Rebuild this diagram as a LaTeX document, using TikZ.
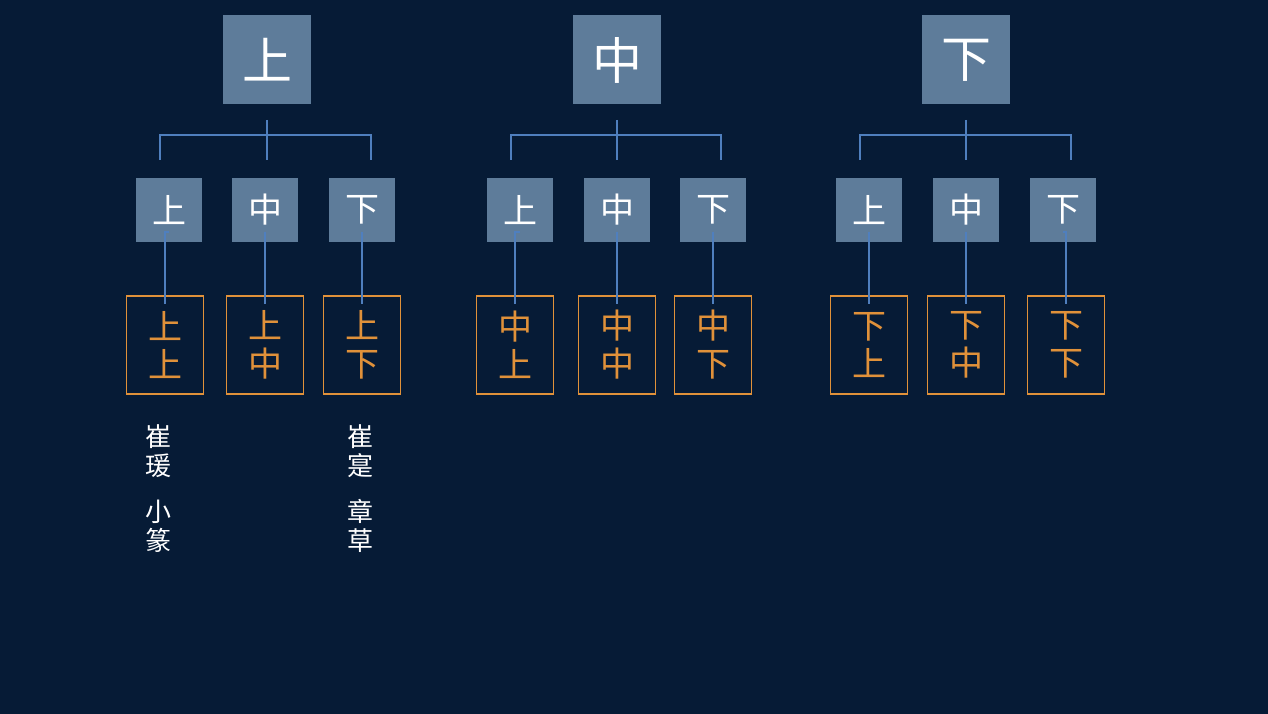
\documentclass[tikz,border=0pt]{standalone}
\usepackage{fontspec}
\newfontfamily\cjk{Noto Sans CJK SC}[Scale=1]
\definecolor{bg}{HTML}{061B36}
\definecolor{tile}{HTML}{5E7C9A}
\definecolor{ln}{HTML}{4F7FBE}
\definecolor{org}{HTML}{E0913A}
\tikzset{
 big/.style={fill=tile,minimum width=88pt,minimum height=89pt,inner sep=0,text=white,font=\cjk\fontsize{50}{50}\selectfont},
 mid/.style={fill=tile,minimum width=66pt,minimum height=63pt,inner sep=0,text=white,font=\cjk\fontsize{34}{34}\selectfont},
 obox/.style={draw=org,line width=1.2pt,minimum width=77pt,minimum height=98pt,inner sep=0,text=org,align=center,font=\cjk\fontsize{34}{38}\selectfont},
 conn/.style={draw=ln,line width=1.6pt},
 note/.style={text=white,align=center,font=\cjk\fontsize{26}{29}\selectfont}
}
\begin{document}
\begin{tikzpicture}[x=1pt,y=-1pt]
\fill[bg] (0,0) rectangle (1268,714);
\useasboundingbox (0,0) rectangle (1268,714);
\foreach \g/\c/\tx/\ma/\mb/\mc/\ba/\bb/\bc/\l/\r in {
 a/267/上/169/265/362/165/265/362/160/371,
 b/617/中/520/617/713/515/617/713/511/721,
 c/966/下/869/966/1063/869/966/1066/860/1071}{
 \node[big] (\g top) at (\c,60) {\tx};
 \coordinate (\g j) at (\c,135);
 \node[mid] (\g m1) at (\ma,210) {上};
 \node[mid] (\g m2) at (\mb,210) {中};
 \node[mid] (\g m3) at (\mc,210) {下};
 \coordinate (\g L) at (\l,135);
 \coordinate (\g R) at (\r,135);
 \coordinate (\g Lb) at (\l,160);
 \coordinate (\g Rb) at (\r,160);
 \coordinate (\g Mb) at (\c,160);
 \coordinate (\g Mt) at (\c,120);
 \draw[conn] (\g Lb) -- (\g L) -- (\g R) -- (\g Rb);
 \draw[conn] (\g Mt) -- (\g Mb);
 \node[obox] (\g b1) at (\ba,345) {\tx\\上};
 \node[obox] (\g b2) at (\bb,345) {\tx\\中};
 \node[obox] (\g b3) at (\bc,345) {\tx\\下};
 \foreach \i in {1,2,3}{
  \coordinate (\g s\i) at ([yshift=10pt]\g m\i.south);
  \coordinate (\g e\i) at ([yshift=-9pt]\g b\i.north);
  \draw[conn] (\g s\i) -- (\g e\i|-\g s\i) -- (\g e\i);
 }
}
\node[note] (n1) at (158,451) {崔\\瑗};
\node[note] (n2) at (158,526) {小\\篆};
\node[note] (n3) at (360,451) {崔\\寔};
\node[note] (n4) at (360,526) {章\\草};
\end{tikzpicture}
\end{document}
